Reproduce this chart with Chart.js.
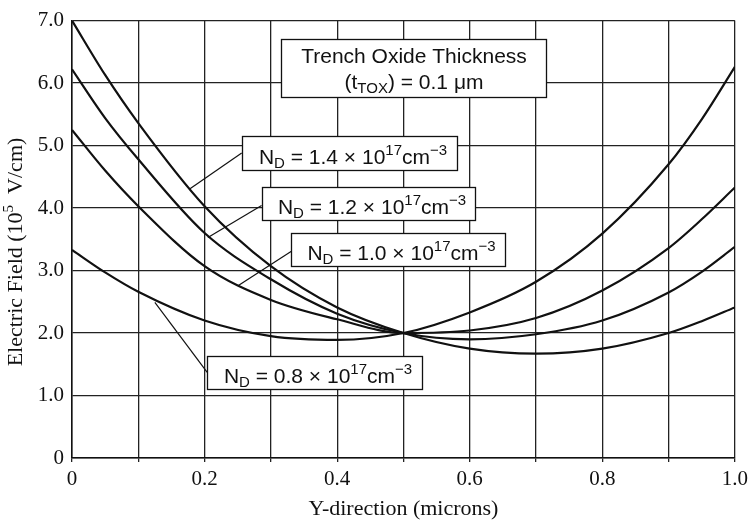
<!DOCTYPE html>
<html>
<head>
<meta charset="utf-8">
<script src="https://cdn.jsdelivr.net/npm/chart.js@4.4.0/dist/chart.umd.min.js"></script>
<style>
  html, body { margin: 0; padding: 0; background: #fff; }
</style>
</head>
<body>
<canvas id="myChart" width="753" height="524"></canvas>
<script>
// Y-direction positions (microns)
var yPos = [0, 0.05, 0.1, 0.2, 0.3, 0.4, 0.5, 0.6, 0.7, 0.8, 0.9, 0.95, 1.0];

// electric field (1e5 V/cm) for each doping ND
var field14 = [7.0, 6.13, 5.36, 4.03, 3.07, 2.41, 2.0, 1.75, 1.67, 1.75, 2.0, 2.19, 2.41];
var field12 = [6.22, 5.44, 4.78, 3.60, 2.86, 2.31, 2.0, 1.90, 1.98, 2.20, 2.65, 2.98, 3.38];
var field10 = [5.25, 4.60, 4.03, 3.07, 2.53, 2.22, 2.0, 2.04, 2.24, 2.68, 3.36, 3.82, 4.33];
var field08 = [3.33, 2.97, 2.66, 2.20, 1.95, 1.89, 2.0, 2.33, 2.82, 3.59, 4.70, 5.42, 6.26];

var dopings = ['1.4', '1.2', '1.0', '0.8'];

var sansFont = "'Liberation Sans', Arial, sans-serif";
var serifFont = "'Liberation Serif', 'Times New Roman', serif";

// label boxes (data coords) and where their leader lines touch the curves
var labelBoxes = [
  { nd: '1.4', left: 0.256, right: 0.581, top: 5.15, bottom: 4.61, fromX: 0.256, fromY: 4.88, toX: 0.178, toY: 4.31 },
  { nd: '1.2', left: 0.286, right: 0.608, top: 4.34, bottom: 3.81, fromX: 0.286, fromY: 4.04, toX: 0.205, toY: 3.53 },
  { nd: '1.0', left: 0.331, right: 0.653, top: 3.60, bottom: 3.07, fromX: 0.331, fromY: 3.31, toX: 0.251, toY: 2.76 },
  { nd: '0.8', left: 0.204, right: 0.528, top: 1.63, bottom: 1.10, fromX: 0.204, fromY: 1.37, toX: 0.125, toY: 2.49 }
];
var oxideBox = { left: 0.316, right: 0.715, top: 6.70, bottom: 5.77 };

function toPoints(vals) {
  var pts = [];
  for (var i = 0; i < yPos.length; i++) {
    pts.push({ x: yPos[i], y: vals[i] });
  }
  return pts;
}

// draws a run of text pieces [text, size, dy], centred on cx
function drawPieces(ctx, pieces, cx, baseline, family) {
  var total = 0;
  for (var i = 0; i < pieces.length; i++) {
    ctx.font = pieces[i][1] + 'px ' + family;
    total += ctx.measureText(pieces[i][0]).width;
  }
  var x = cx - total / 2;
  ctx.textAlign = 'left';
  ctx.textBaseline = 'alphabetic';
  for (var j = 0; j < pieces.length; j++) {
    ctx.font = pieces[j][1] + 'px ' + family;
    ctx.fillText(pieces[j][0], x, baseline + pieces[j][2]);
    x += ctx.measureText(pieces[j][0]).width;
  }
}

var notesPlugin = {
  id: 'notes',
  afterDatasetsDraw: function (chart) {
    var ctx = chart.ctx;
    var xs = chart.scales.x, ys = chart.scales.y;
    ctx.save();
    ctx.strokeStyle = '#111';
    ctx.fillStyle = '#111';

    // leader lines
    ctx.lineWidth = 1.2;
    labelBoxes.forEach(function (b) {
      ctx.beginPath();
      ctx.moveTo(xs.getPixelForValue(b.fromX), ys.getPixelForValue(b.fromY));
      ctx.lineTo(xs.getPixelForValue(b.toX), ys.getPixelForValue(b.toY));
      ctx.stroke();
    });

    function box(b) {
      var l = Math.round(xs.getPixelForValue(b.left)) + 0.5;
      var r = Math.round(xs.getPixelForValue(b.right)) + 0.5;
      var t = Math.round(ys.getPixelForValue(b.top)) + 0.5;
      var btm = Math.round(ys.getPixelForValue(b.bottom)) + 0.5;
      ctx.fillStyle = '#fff';
      ctx.fillRect(l, t, r - l, btm - t);
      ctx.lineWidth = 1.3;
      ctx.strokeRect(l, t, r - l, btm - t);
      ctx.fillStyle = '#111';
      return { l: l, r: r, t: t, b: btm };
    }

    labelBoxes.forEach(function (b) {
      var p = box(b);
      drawPieces(ctx, [
        ['N', 21, 0], ['D', 15, 4], [' = ' + b.nd + ' \u00d7 10', 21, 0],
        ['17', 15, -9], ['cm', 21, 0], ['\u22123', 15, -9]
      ], (p.l + p.r) / 2 + 3, p.b - 7, sansFont);
    });

    var o = box(oxideBox);
    drawPieces(ctx, [['Trench Oxide Thickness', 21, 0]], (o.l + o.r) / 2, o.t + 23, sansFont);
    drawPieces(ctx, [['(t', 21, 0], ['TOX', 15, 4], [') = 0.1 \u03bcm', 21, 0]], (o.l + o.r) / 2, o.t + 49, sansFont);

    // y axis title with superscript
    ctx.translate(15, 252);
    ctx.rotate(-Math.PI / 2);
    drawPieces(ctx, [['Electric Field (10', 22, 7], ['5', 15, -2], ['  V/cm)', 22, 7]], 0, 0, serifFont);
    ctx.restore();
  }
};

var ctx = document.getElementById('myChart').getContext('2d');
var myChart = new Chart(ctx, {
  type: 'line',
  data: {
    datasets: [field14, field12, field10, field08].map(function (vals, i) {
      return {
        label: 'ND = ' + dopings[i],
        data: toPoints(vals),
        borderColor: '#111',
        borderWidth: 2.2,
        pointRadius: 0,
        fill: false,
        cubicInterpolationMode: 'monotone'
      };
    })
  },
  options: {
    responsive: false,
    animation: false,
    layout: { padding: { left: 0, right: 16, top: 15, bottom: 0 } },
    plugins: { legend: { display: false }, tooltip: { enabled: false } },
    scales: {
      x: {
        type: 'linear',
        min: 0,
        max: 1,
        afterFit: function (scale) { scale.height = 66; },
        ticks: {
          stepSize: 0.1,
          autoSkip: false,
          maxRotation: 0,
          padding: 5,
          color: '#111',
          font: { family: serifFont, size: 21 },
          callback: function (v) {
            var k = Math.round(v * 10);
            if (k % 2) return '';
            return k === 0 ? '0' : (k / 10).toFixed(1);
          }
        },
        grid: { color: '#222', lineWidth: 1.3, tickLength: 4 },
        border: { color: '#111', width: 1.5 },
        title: {
          display: true,
          text: 'Y-direction (microns)',
          color: '#111',
          font: { family: serifFont, size: 22 },
          padding: { top: 0, bottom: 2 }
        }
      },
      y: {
        min: 0,
        max: 7,
        afterFit: function (scale) { scale.width = 72; },
        ticks: {
          stepSize: 1,
          padding: 8,
          color: '#111',
          font: { family: serifFont, size: 21 },
          callback: function (v) { return v === 0 ? '0' : v.toFixed(1); }
        },
        grid: { color: '#222', lineWidth: 1.3, drawTicks: false },
        border: { color: '#111', width: 1.5 }
      }
    }
  },
  plugins: [notesPlugin]
});
</script>
</body>
</html>
